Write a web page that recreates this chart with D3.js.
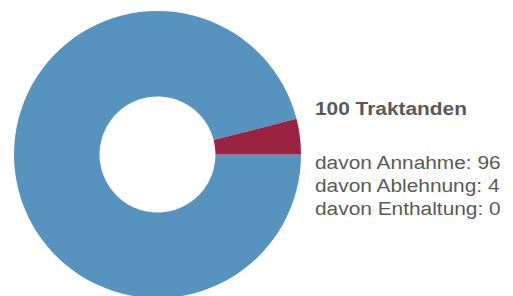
<!DOCTYPE html>
<html>
<head>
<meta charset="utf-8">
<script src="https://cdn.jsdelivr.net/npm/d3@7"></script>
<style>
  body { margin: 0; background: #fff; }
  text { font-family: "Liberation Sans", Arial, sans-serif; fill: #595959; }
</style>
</head>
<body>
<div id="chart"></div>
<script>
var categories = ['Annahme', 'Ablehnung', 'Enthaltung'];
var values = [96, 4, 0];
var colors = ['#5793bf', '#9b2241', '#aaaaaa'];
var title = '100 Traktanden';

var width = 513, height = 296;

var svg = d3.select('#chart').append('svg')
  .attr('width', width)
  .attr('height', height);

var data = categories.map(function(c, i) { return {name: c, value: values[i], color: colors[i]}; });

// pie starts at 3 o'clock, going clockwise
var pie = d3.pie()
  .value(function(d) { return d.value; })
  .sort(null)
  .startAngle(Math.PI / 2)
  .endAngle(Math.PI / 2 + 2 * Math.PI);

var arc = d3.arc()
  .innerRadius(58)
  .outerRadius(143.5);

var g = svg.append('g')
  .attr('transform', 'translate(157.5,154.5)');

g.selectAll('path')
  .data(pie(data))
  .enter()
  .append('path')
  .attr('d', arc)
  .attr('fill', function(d) { return d.data.color; });

// legend text, the original's type is set wide
var legend = svg.append('g')
  .attr('transform', 'translate(315,0) scale(1.16,1)');

legend.append('text')
  .attr('y', 115)
  .style('font-size', '18px')
  .style('font-weight', 'bold')
  .text(title);

legend.selectAll('text.item')
  .data(data)
  .enter()
  .append('text')
  .attr('class', 'item')
  .attr('y', function(d, i) { return 169 + i * 23; })
  .style('font-size', '18px')
  .text(function(d) { return 'davon ' + d.name + ': ' + d.value; });
</script>
</body>
</html>
